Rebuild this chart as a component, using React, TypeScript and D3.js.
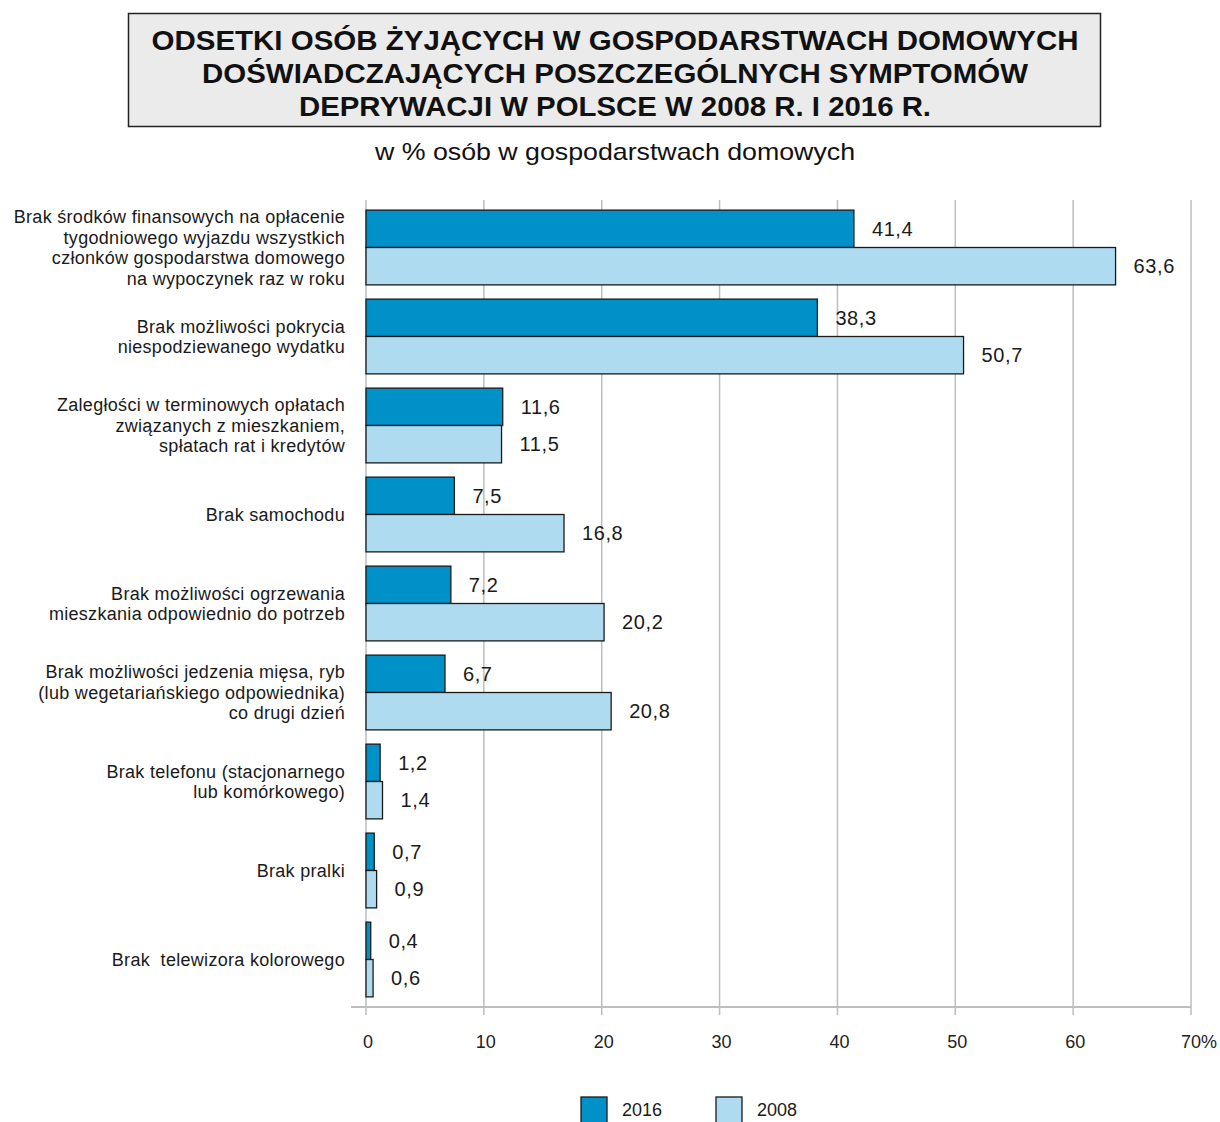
import { useEffect, useRef } from 'react';
import * as d3 from 'd3';

// Data
const categories = [
  'Brak środków finansowych na opłacenie|tygodniowego wyjazdu wszystkich|członków gospodarstwa domowego|na wypoczynek raz w roku',
  'Brak możliwości pokrycia|niespodziewanego wydatku',
  'Zaległości w terminowych opłatach|związanych z mieszkaniem,|spłatach rat i kredytów',
  'Brak samochodu',
  'Brak możliwości ogrzewania|mieszkania odpowiednio do potrzeb',
  'Brak możliwości jedzenia mięsa, ryb|(lub wegetariańskiego odpowiednika)|co drugi dzień',
  'Brak telefonu (stacjonarnego|lub komórkowego)',
  'Brak pralki',
  'Brak  telewizora kolorowego',
];
const values2016 = [41.4, 38.3, 11.6, 7.5, 7.2, 6.7, 1.2, 0.7, 0.4];
const values2008 = [63.6, 50.7, 11.5, 16.8, 20.2, 20.8, 1.4, 0.9, 0.6];
const series = ['2016', '2008'];
const xTicks = [0, 10, 20, 30, 40, 50, 60, 70];

const titleLines = [
  'ODSETKI OSÓB ŻYJĄCYCH W GOSPODARSTWACH DOMOWYCH',
  'DOŚWIADCZAJĄCYCH POSZCZEGÓLNYCH SYMPTOMÓW',
  'DEPRYWACJI W POLSCE W 2008 R. I 2016 R.',
];
const subtitle = 'w % osób w gospodarstwach domowych';

const COLORS: Record<string, string> = { '2016': '#0091c8', '2008': '#afdbf1' };
const FONT = '"Liberation Sans", Arial, sans-serif';
const NARROW = '"Liberation Sans Narrow", "Arial Narrow", "Liberation Sans", sans-serif';

export default function App() {
  const svgRef = useRef<SVGSVGElement>(null);
  const width = 1220;
  const height = 1122;

  useEffect(() => {
    if (!svgRef.current) return;
    const svg = d3.select(svgRef.current);
    svg.selectAll('*').remove();

    // Title box
    svg.append('rect')
      .attr('x', 128.5).attr('y', 13.5).attr('width', 972).attr('height', 113)
      .attr('fill', '#ebebeb').attr('stroke', '#222').attr('stroke-width', 1.5);

    const titleWidths = [927, 826, 632];
    titleLines.forEach((t, i) => {
      svg.append('text')
        .attr('x', 615).attr('y', 50 + i * 33)
        .attr('text-anchor', 'middle')
        .attr('font-family', NARROW)
        .attr('font-weight', 'bold')
        .attr('font-size', 28)
        .attr('fill', '#111')
        .attr('textLength', titleWidths[i])
        .attr('lengthAdjust', 'spacingAndGlyphs')
        .text(t);
    });

    svg.append('text')
      .attr('x', 615).attr('y', 160)
      .attr('text-anchor', 'middle')
      .attr('font-family', NARROW)
      .attr('font-size', 24)
      .attr('fill', '#111')
      .attr('textLength', 480)
      .attr('lengthAdjust', 'spacingAndGlyphs')
      .text(subtitle);

    // Scales
    const x = d3.scaleLinear().domain([0, 70]).range([366, 1191]);
    const y = d3.scaleBand<number>()
      .domain(d3.range(categories.length))
      .range([203, 1004])
      .paddingInner(0.16)
      .paddingOuter(0.08);
    const ySub = d3.scaleBand().domain(series).range([0, y.bandwidth()]);

    const plotTop = 200;
    const axisY = 1007;

    // Gridlines
    svg.append('g').selectAll('line')
      .data(xTicks)
      .join('line')
      .attr('x1', (d) => x(d)).attr('x2', (d) => x(d))
      .attr('y1', plotTop).attr('y2', axisY + 8)
      .attr('stroke', '#bdbdbd').attr('stroke-width', 1.5);

    // Axis line
    svg.append('line')
      .attr('x1', 351).attr('x2', x(70))
      .attr('y1', axisY).attr('y2', axisY)
      .attr('stroke', '#bdbdbd').attr('stroke-width', 2);

    // Tick labels
    svg.append('g').selectAll('text')
      .data(xTicks)
      .join('text')
      .attr('x', (d) => x(d) + (d === 70 ? 8 : 2))
      .attr('y', 1048)
      .attr('text-anchor', 'middle')
      .attr('font-family', NARROW)
      .attr('font-size', 18)
      .attr('fill', '#222')
      .text((d) => (d === 70 ? '70%' : String(d)));

    // Bars
    const groups = svg.append('g').selectAll('g')
      .data(categories.map((c, i) => ({ c, i })))
      .join('g')
      .attr('transform', (d) => `translate(0,${y(d.i)})`);

    const valueFor = (s: string, i: number) => (s === '2016' ? values2016[i] : values2008[i]);

    groups.selectAll('rect')
      .data((d) => series.map((s) => ({ s, v: valueFor(s, d.i) })))
      .join('rect')
      .attr('x', x(0))
      .attr('y', (d) => ySub(d.s) || 0)
      .attr('width', (d) => x(d.v) - x(0))
      .attr('height', ySub.bandwidth())
      .attr('fill', (d) => COLORS[d.s])
      .attr('stroke', '#1a1a1a')
      .attr('stroke-width', 1.3);

    groups.selectAll('text.val')
      .data((d) => series.map((s) => ({ s, v: valueFor(s, d.i) })))
      .join('text')
      .attr('class', 'val')
      .attr('x', (d) => x(d.v) + 18)
      .attr('y', (d) => (ySub(d.s) || 0) + ySub.bandwidth() / 2)
      .attr('dy', '0.36em')
      .attr('font-family', FONT)
      .attr('font-size', 20)
      .attr('letter-spacing', 0.6)
      .attr('fill', '#1a1a1a')
      .text((d) => d3.format('.1f')(d.v).replace('.', ','));

    // Category labels
    const lineH = 20.5;
    groups.each(function (d) {
      const lines = d.c.split('|');
      const cy = y.bandwidth() / 2 - ((lines.length - 1) * lineH) / 2;
      const t = d3.select(this).append('text')
        .attr('text-anchor', 'end')
        .attr('font-family', FONT)
        .attr('font-size', 18)
        .attr('letter-spacing', 0.3)
        .attr('fill', '#1a1a1a')
        .style('white-space', 'pre');
      lines.forEach((l, k) => {
        t.append('tspan')
          .attr('x', 345)
          .attr('y', cy + k * lineH)
          .attr('dy', '0.35em')
          .text(l);
      });
    });

    // Legend
    const legendX = [581, 716];
    series.forEach((s, i) => {
      svg.append('rect')
        .attr('x', legendX[i]).attr('y', 1097)
        .attr('width', 26).attr('height', 30)
        .attr('fill', COLORS[s])
        .attr('stroke', '#1a1a1a').attr('stroke-width', 1.3);
      svg.append('text')
        .attr('x', legendX[i] + 41).attr('y', 1116)
        .attr('font-family', NARROW)
        .attr('font-size', 18)
        .attr('fill', '#1a1a1a')
        .text(s);
    });
  }, []);

  return <svg ref={svgRef} width={width} height={height} style={{ display: 'block', position: 'absolute', left: 0, top: 0 }} />;
}
